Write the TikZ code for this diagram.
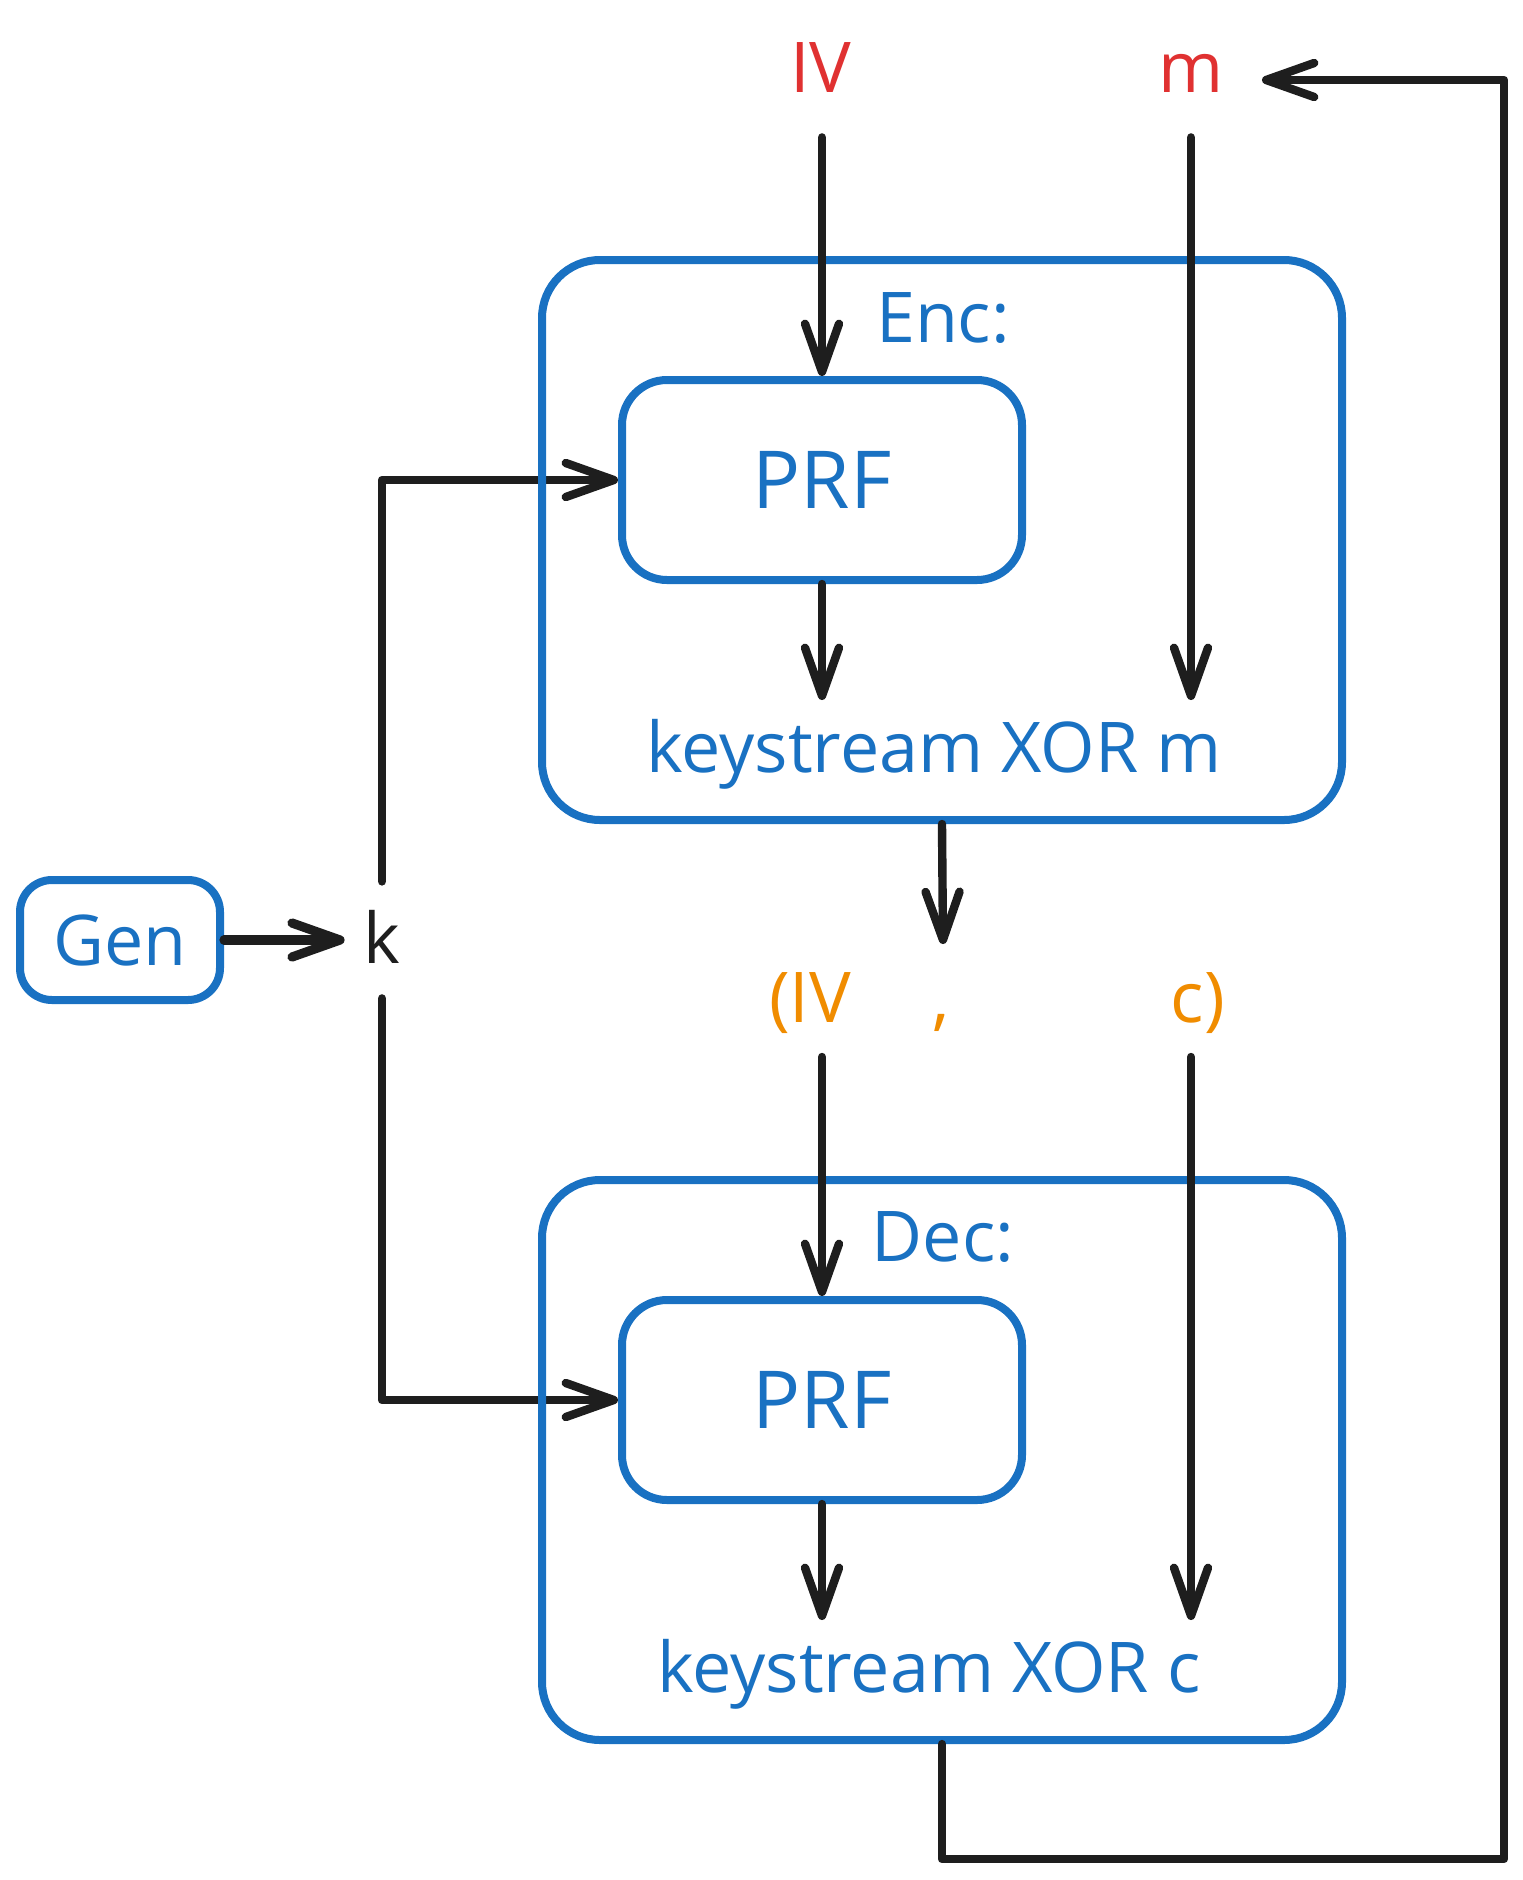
\documentclass[tikz,border=0pt]{standalone}
\usepackage{fontspec}
\setmainfont{Open Sans}
\usetikzlibrary{arrows.meta,backgrounds}
\definecolor{eblue}{HTML}{1971C2}
\definecolor{ered}{HTML}{E03131}
\definecolor{eorange}{HTML}{F08C00}
\definecolor{eblack}{HTML}{1E1E1E}
\begin{document}
\begin{tikzpicture}[x=0.5pt,y=-0.5pt,
  txt/.style={inner sep=0pt, anchor=base, font=\fontsize{35}{42}\selectfont},
  bluetxt/.style={txt, text=eblue},
  box/.style={draw=eblue, line width=4pt, rounded corners=#1, inner sep=0pt, text=eblue},
  arr/.style={draw=eblack, line width=4.2pt, line cap=round, line join=round,
    -{Straight Barb[length=24pt,width=17pt,round]}}]
\useasboundingbox (0,0) rectangle (1522,1880);
% boxes
\node[box=29pt, minimum width=400pt, minimum height=280pt] (enc) at (942,540) {};
\node[box=22.5pt, minimum width=200pt, minimum height=100pt, font=\fontsize{40}{48}\selectfont] (prf1) at (822,480) {PRF};
\node[box=29pt, minimum width=400pt, minimum height=280pt] (dec) at (942,1460) {};
\node[box=22.5pt, minimum width=200pt, minimum height=100pt, font=\fontsize{40}{48}\selectfont] (prf2) at (822,1400) {PRF};
\node[box=16pt, minimum width=100pt, minimum height=60pt, font=\fontsize{35}{42}\selectfont] (gen) at (120,940) {Gen};
% texts
\node[bluetxt] (enct) at (943,342) {Enc:};
\node[bluetxt] (ksm) at (934,772) {keystream XOR m};
\node[bluetxt] (dect) at (943,1261) {Dec:};
\node[bluetxt] (ksc) at (929,1692) {keystream XOR c};
\node[txt, text=ered] (iv) at (821,92) {IV};
\node[txt, text=ered] (m) at (1191,92) {m};
\node[txt, text=eorange] (ivb) at (810,1022) {(IV};
\node[txt, text=eorange] (comma) at (941,1022) {,};
\node[txt, text=eorange] (cb) at (1198,1022) {c)};
\node[txt, text=eblack] (k) at (382,963) {k};
% free ends
\coordinate (ksin1) at (822,700);
\coordinate (ksin2) at (1191,700);
\coordinate (ivcin) at (943,944);
\coordinate (ivin) at (822,1057);
\coordinate (cin) at (1191,1057);
\coordinate (kcin1) at (822,1620);
\coordinate (kcin2) at (1191,1620);
\coordinate (l1) at (942,1859);
\coordinate (l2) at (1504,1859);
\coordinate (l3) at (1504,80);
% connectors
\draw[arr, shorten <=22.5pt] (iv.south -| prf1.north) -- (prf1.north);
\draw[arr, shorten <=22.5pt] (m.south) -- (ksin2);
\draw[arr] (prf1.south) -- (ksin1);
\draw[arr] (enc.south) -- (ivcin);
\draw[arr] (ivin) -- (prf2.north);
\draw[arr] (cin) -- (kcin2);
\draw[arr] (prf2.south) -- (kcin1);
\draw[arr, line width=4.6pt, shorten >=9.3pt] (gen.east) -- (gen.east -| k.west);
\draw[arr, shorten >=19pt] (dec.south) -- (l1) -- (l2) -- (l3) -- (m.east |- l3);
\begin{scope}[on background layer]
\fill[white] (0,0) rectangle (1522,1880);
\draw[arr, shorten <=14pt] (k.north) |- (prf1.west);
\draw[arr, shorten <=17.5pt] (k.south) |- (prf2.west);
\end{scope}
\end{tikzpicture}
\end{document}
